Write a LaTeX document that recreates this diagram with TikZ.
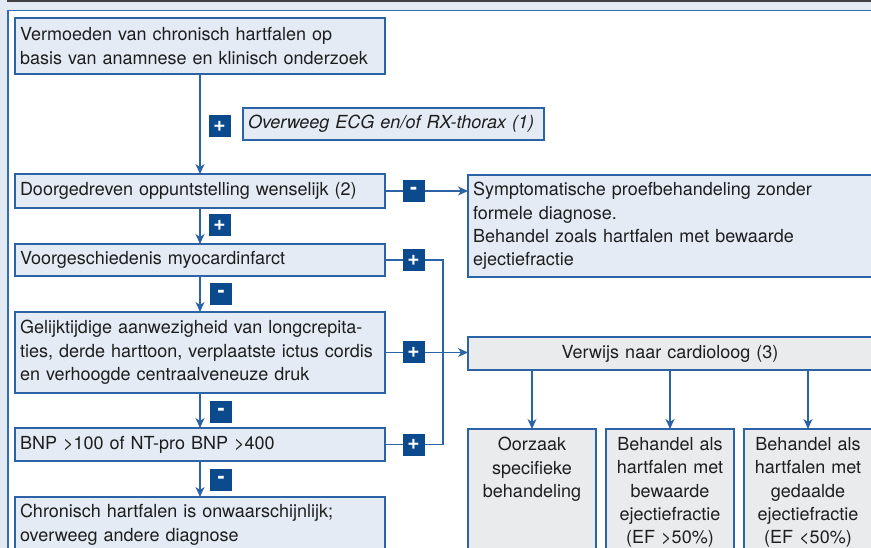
\documentclass[tikz,border=0pt]{standalone}
\usepackage{fontspec}
\setmainfont{TeX Gyre Heros}
\usepackage{xcolor}
\usepackage{tikz}
\usetikzlibrary{positioning,arrows.meta}

\definecolor{pagebg}{HTML}{E4EAF3}
\definecolor{boxfill}{HTML}{E4EBF4}
\definecolor{greyfill}{HTML}{EAEBED}
\definecolor{lineblue}{HTML}{2C62A6}
\definecolor{panelblue}{HTML}{2F6DB5}
\definecolor{signblue}{HTML}{0B4A8C}
\definecolor{txt}{HTML}{1E1E1E}

\begin{document}
\begin{tikzpicture}[
        x=1pt, y=1pt,
        node distance=10pt and 10pt,
        every node/.style={font=\fontsize{18}{23.3}\selectfont, text=txt, outer sep=0},
        box/.style={anchor=north west, draw=lineblue, line width=1.1pt, fill=boxfill,
            inner xsep=5pt, inner ysep=0pt, align=left, text width=360pt},
        note/.style={box, text width=291pt, font=\fontsize{18}{23.3}\selectfont\itshape},
        topbox/.style={box, inner ysep=7.5pt},
        choice/.style={box, fill=greyfill, text width=120pt, inner xsep=4pt, inner ysep=8.5pt},
        sign/.style={fill=signblue, text=white, minimum size=22pt, inner sep=0pt,
            font=\fontsize{21}{21}\selectfont\bfseries},
        link/.style={draw=lineblue, line width=1.2pt},
        flow/.style={link, -{Stealth[length=10pt,width=9pt,inset=3pt]}},
    ]
        \useasboundingbox (0,0) rectangle (871,-548);
        \clip (0,0) rectangle (871,-548);
        \fill [pagebg] (0,0) rectangle (871,-548);
        \draw [line width=1.5pt, black!75] (7,-1) -- (871,-1);
        \draw [line width=1.5pt, panelblue, fill=white] (8,-10.5) rectangle (890,-560);

        % left column
        \node [box, minimum height=56pt] (start) at (15,-18) {Vermoeden van chronisch hartfalen op\\basis van anamnese en klinisch onderzoek};
        \node [note, minimum height=32pt] (ecg) at (243,-108) {Overweeg ECG en/of RX-thorax (1)};
        \node [box, minimum height=34pt] (q1) at (15,-174) {Doorgedreven oppuntstelling wenselijk (2)};
        \node [box, minimum height=32pt] (q2) at (15,-244) {Voorgeschiedenis myocardinfarct};
        \node [box, minimum height=81pt] (q3) at (15,-312) {Gelijktijdige aanwezigheid van longcrepita-\\ties, derde harttoon, verplaatste ictus cordis\\en verhoogde centraalveneuze druk};
        \node [box, minimum height=33pt] (q4) at (15,-428) {BNP >100 of NT-pro BNP >400};
        \node [topbox] (unlikely) at (15,-497) {\parbox[t][70pt][t]{360pt}{Chronisch hartfalen is onwaarschijnlijk;\\overweeg andere diagnose}};

        % right column
        \node [box, text width=395pt, minimum height=102pt] (symp) at (468,-175) {Symptomatische proefbehandeling zonder\\formele diagnose.\\Behandel zoals hartfalen met bewaarde\\ejectiefractie};
        \node [box, fill=greyfill, text width=394pt, align=center, minimum height=33pt] (verwijs) at (468,-337) {Verwijs naar cardioloog (3)};
        \node [choice] (cause) at (468,-429) {\parbox[t][120pt][t]{120pt}{\centering Oorzaak\\specifieke\\behandeling}};
        \node [choice, right=of cause] (hfpef) {\parbox[t][120pt][t]{120pt}{\centering Behandel als\\hartfalen met\\bewaarde\\ejectiefractie\\(EF >50\%)}};
        \node [choice, right=of hfpef] (hfref) {\parbox[t][120pt][t]{120pt}{\centering Behandel als\\hartfalen met\\gedaalde\\ejectiefractie\\(EF <50\%)}};

        % connectors
        \coordinate (bus) at ([xshift=58pt]q4.east);
        \draw [flow] (start) -- (q1);
        \draw [flow] (q1) -- (q2);
        \draw [flow] (q2) -- (q3);
        \draw [flow] (q3) -- (q4);
        \draw [flow] (q4.south) -- (q4.south |- unlikely.north);
        \draw [flow] (q1.east) -- (q1.east -| symp.west);
        \draw [link] (q2.east) -| (bus) -- (q4.east);
        \draw [flow] (q3.east) -- (q3.east -| verwijs.west);
        \foreach \n in {cause,hfpef,hfref}
            \draw [flow] (verwijs.south -| \n.north) -- (\n.north);

        % yes / no marks
        \node [sign] (s1) at (219.5,-126) {+};
        \node [sign] (s2) at (219.5,-225) {+};
        \node [sign] (s3) at (221,-294) {-};
        \node [sign] (s4) at (221,-411.5) {-};
        \node [sign] (s5) at (221,-479.5) {-};
        \node [sign] (s6) at ([xshift=28.5pt]q1.east) {-};
        \node [sign] (s7) at ([xshift=28.5pt]q2.east) {+};
        \node [sign] (s8) at ([xshift=28.5pt]q3.east) {+};
        \node [sign] (s9) at ([xshift=28.5pt]q4.east) {+};
\end{tikzpicture}
\end{document}
